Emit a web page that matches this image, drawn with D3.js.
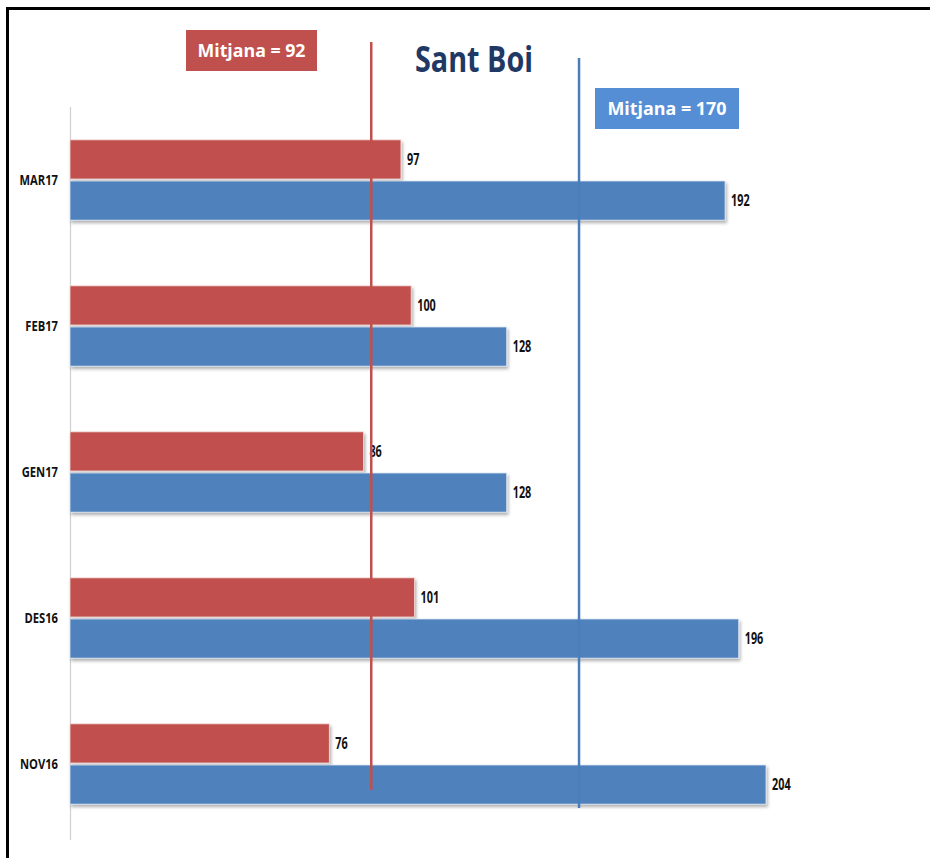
<!DOCTYPE html>
<html><head><meta charset="utf-8">
<script src="https://cdn.jsdelivr.net/npm/d3@7"></script>
<style>
html,body{margin:0;padding:0;background:#fff;}
svg{display:block;}
</style></head>
<body>
<svg id="chart" width="930" height="858"></svg>
<script>
const categories = ["MAR17", "FEB17", "GEN17", "DES16", "NOV16"];
const redValues  = [97, 100, 86, 101, 76];
const blueValues = [192, 128, 128, 196, 204];
const meanLabels = ["Mitjana = 92", "Mitjana = 170"];
// positions (in data units) where the mean lines are drawn in the original picture
const meanLineValues = [88.3, 149.2];
const title = "Sant Boi";

const RED = "#c0504d", BLUE = "#4f81bd", LBLUE = "#558ed5", NAVY = "#1f3864";
const FONT = "'Open Sans','Noto Sans',sans-serif";

const svg = d3.select("#chart");
const defs = svg.append("defs");
const f = defs.append("filter").attr("id","sh").attr("x","-5%").attr("y","-20%").attr("width","110%").attr("height","150%");
f.append("feDropShadow").attr("dx",1.5).attr("dy",2.5).attr("stdDeviation",1.5).attr("flood-color","#000").attr("flood-opacity",0.3);

function squeeze(sel, k){
  sel.each(function(){
    const len = this.getComputedTextLength();
    d3.select(this).attr("textLength", len * k).attr("lengthAdjust","spacingAndGlyphs");
  });
  return sel;
}

// frame
svg.append("line").attr("x1",7.5).attr("x2",7.5).attr("y1",7).attr("y2",858).attr("stroke","#000").attr("stroke-width",3);
svg.append("line").attr("x1",6).attr("x2",930).attr("y1",8.5).attr("y2",8.5).attr("stroke","#000").attr("stroke-width",3);

const x = d3.scaleLinear().domain([0, 204]).range([70, 766]);
const y = d3.scaleBand().domain(categories).range([107, 837]).paddingInner(0.45).paddingOuter(0.225);

// axis line
svg.append("line").attr("x1",70.5).attr("x2",70.5).attr("y1",107).attr("y2",840).attr("stroke","#cfcfcf").attr("stroke-width",1.2);

const half = (y.bandwidth() - 2) / 2;
const g = svg.append("g");
categories.forEach((c, i) => {
  const y0 = y(c);
  g.append("rect").attr("x", x(0)).attr("y", y0).attr("width", x(redValues[i]) - x(0)).attr("height", half)
    .attr("fill", RED).attr("stroke","#f2dcdb").attr("stroke-width",0.8).attr("filter","url(#sh)");
  g.append("rect").attr("x", x(0)).attr("y", y0 + half + 2).attr("width", x(blueValues[i]) - x(0)).attr("height", half)
    .attr("fill", BLUE).attr("stroke","#dbe5f1").attr("stroke-width",0.8).attr("filter","url(#sh)");
  squeeze(g.append("text").attr("x", x(redValues[i]) + 6).attr("y", y0 + half/2).attr("dy","0.36em")
    .attr("font-family",FONT).attr("font-weight","bold").attr("font-size",15.5).attr("fill","#111").text(redValues[i]), 0.7);
  squeeze(g.append("text").attr("x", x(blueValues[i]) + 6).attr("y", y0 + half + 2 + half/2).attr("dy","0.36em")
    .attr("font-family",FONT).attr("font-weight","bold").attr("font-size",15.5).attr("fill","#111").text(blueValues[i]), 0.7);
  squeeze(g.append("text").attr("x", 58).attr("y", y0 + half + 1).attr("dy","0.36em").attr("text-anchor","end")
    .attr("font-family",FONT).attr("font-weight","bold").attr("font-size",14).attr("fill","#111").text(c), 0.8);
});

// mean lines
svg.append("line").attr("x1", x(meanLineValues[0])).attr("x2", x(meanLineValues[0])).attr("y1",42).attr("y2",790)
  .attr("stroke", RED).attr("stroke-width",2.5);
svg.append("line").attr("x1", x(meanLineValues[1])).attr("x2", x(meanLineValues[1])).attr("y1",58).attr("y2",808)
  .attr("stroke", "#4a7ebb").attr("stroke-width",2.5);

// mean labels
function box(cx, cy, w, h, fill, label, tw){
  svg.append("rect").attr("x", cx).attr("y", cy).attr("width", w).attr("height", h).attr("fill", fill);
  svg.append("text").attr("x", cx + w/2).attr("y", cy + h/2).attr("dy","0.36em").attr("text-anchor","middle")
    .attr("font-family",FONT).attr("font-weight","bold").attr("font-size",18).attr("fill","#fff")
    .attr("textLength", tw).attr("lengthAdjust","spacingAndGlyphs").text(label);
}
box(186, 30, 131, 41, RED, meanLabels[0], 108);
box(595, 88, 144, 41, LBLUE, meanLabels[1], 119);

// title
svg.append("text").attr("x", 474).attr("y", 72).attr("text-anchor","middle")
  .attr("font-family",FONT).attr("font-weight","bold").attr("font-size",35).attr("fill",NAVY)
  .attr("textLength", 118).attr("lengthAdjust","spacingAndGlyphs").text(title);
</script>
</body></html>
